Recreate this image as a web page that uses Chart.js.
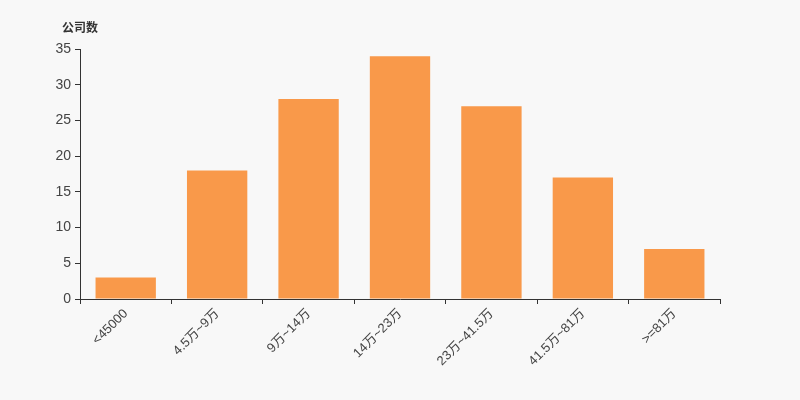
<!DOCTYPE html>
<html>
<head>
<meta charset="utf-8">
<script src="https://cdn.jsdelivr.net/npm/chart.js@4.4.1/dist/chart.umd.min.js"></script>
<style>
  html, body { margin: 0; padding: 0; background: #f8f8f8; }
  #wrap { width: 800px; height: 400px; }
</style>
</head>
<body>
<div id="wrap"><canvas id="chart" width="800" height="400"></canvas></div>
<script>
// Categories and values
const categories = ['<45000', '4.5万~9万', '9万~14万', '14万~23万', '23万~41.5万', '41.5万~81万', '>=81万'];
const companyCounts = [3, 18, 28, 34, 27, 17, 7];
const yTicks = [0, 5, 10, 15, 20, 25, 30, 35];
const yAxisName = '公司数';

const fontFamily = '"Liberation Sans", "Noto Sans CJK SC", sans-serif';

// Draws the axis name above the y axis
const axisNamePlugin = {
    id: 'axisName',
    afterDraw(chart) {
        const ctx = chart.ctx;
        const area = chart.chartArea;
        ctx.save();
        ctx.font = 'bold 12px "Noto Sans CJK SC", sans-serif';
        ctx.fillStyle = '#333';
        ctx.textAlign = 'center';
        ctx.textBaseline = 'middle';
        ctx.fillText(yAxisName, area.left, area.top - 22);
        ctx.restore();
    }
};

const ctx = document.getElementById('chart').getContext('2d');
new Chart(ctx, {
    type: 'bar',
    data: {
        labels: categories,
        datasets: [{
            label: yAxisName,
            data: companyCounts,
            backgroundColor: '#f9994a',
            borderWidth: 0,
            categoryPercentage: 1,
            barPercentage: 0.66
        }]
    },
    options: {
        responsive: false,
        animation: false,
        layout: { padding: { top: 49, right: 80, left: 0, bottom: 0 } },
        plugins: {
            legend: { display: false },
            tooltip: { enabled: false }
        },
        scales: {
            x: {
                offset: true,
                grid: {
                    display: true,
                    offset: true,
                    drawOnChartArea: false,
                    drawTicks: true,
                    tickLength: 5,
                    color: '#333'
                },
                border: { display: true, color: '#333', width: 1 },
                ticks: {
                    autoSkip: false,
                    maxRotation: 45,
                    minRotation: 45,
                    padding: 2,
                    color: '#444',
                    font: { size: 13, family: fontFamily }
                },
                afterFit(scale) { scale.height = 101; }
            },
            y: {
                min: 0,
                max: 35,
                afterBuildTicks(scale) { scale.ticks = yTicks.map(v => ({ value: v })); },
                grid: {
                    display: true,
                    drawOnChartArea: false,
                    drawTicks: true,
                    tickLength: 5,
                    color: '#333'
                },
                border: { display: true, color: '#333', width: 1 },
                ticks: {
                    padding: 4,
                    color: '#444',
                    font: { size: 14, family: fontFamily }
                },
                afterFit(scale) { scale.width = 80; }
            }
        }
    },
    plugins: [axisNamePlugin]
});
</script>
</body>
</html>
